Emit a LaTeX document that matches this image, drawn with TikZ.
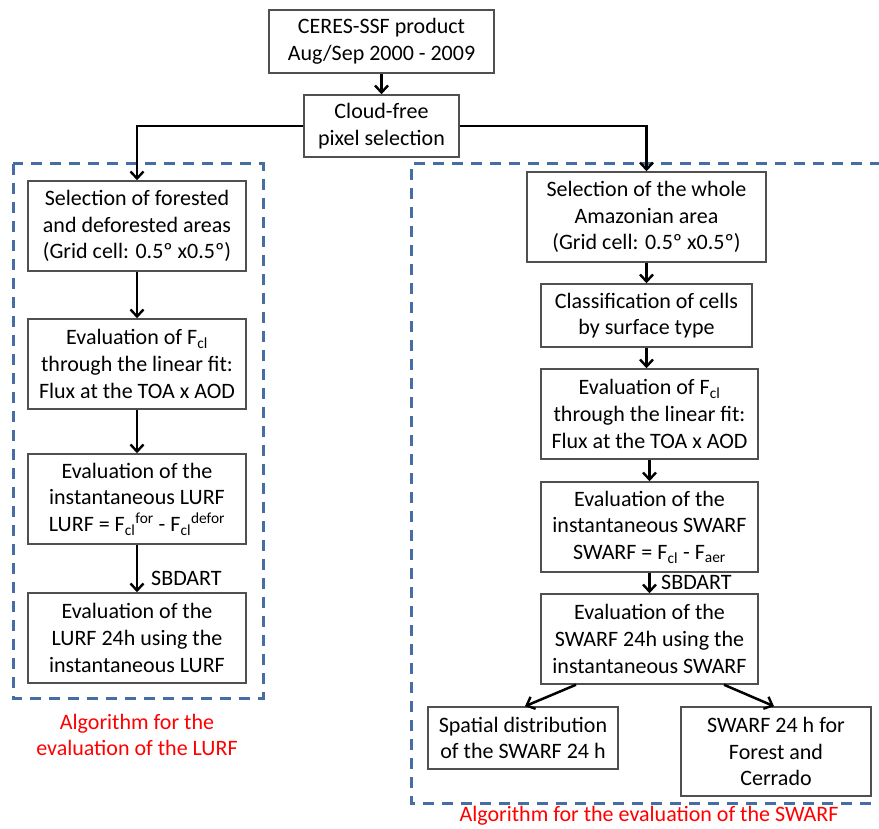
\documentclass[tikz,border=0pt]{standalone}
\usepackage{fontspec}
\setmainfont{Carlito}
\usetikzlibrary{arrows.meta}
\definecolor{dashblue}{RGB}{70,110,165}
\definecolor{boxgray}{RGB}{80,80,80}
\begin{document}
\begin{tikzpicture}[x=1pt,y=-1pt,
  every node/.style={font=\fontsize{22}{26.7}\selectfont, inner sep=0pt},
  box/.style={draw=boxgray, line width=1.5pt, align=center, fill=white},
  arr/.style={draw=black, line width=2.5pt, -{Straight Barb[length=7pt,width=13pt,line width=2.4pt]}},
  grp/.style={draw=dashblue, line width=3pt, dash pattern=on 11pt off 8pt},
  redlbl/.style={text=red, align=center}]
\useasboundingbox (0,0) rectangle (879,829);
\clip (0,0) rectangle (879,829);
% group frames
\draw[grp] (13,164) rectangle (263,698);
\draw[grp] (900,164) -- (411,164) -- (411,803) -- (900,803);
% top
\node[box, minimum width=225pt, minimum height=63pt] (top) at (381.5,41.5) {CERES-SSF product\\Aug/Sep 2000 - 2009};
\node[box, minimum width=155pt, minimum height=62pt] (cloud) at (381.5,126) {Cloud-free\\pixel selection};
% left column
\node[box, minimum width=218pt, minimum height=90pt] (L1) at (137,226) {Selection of forested\\and deforested areas\\(Grid cell: 0.5º x0.5º)};
\node[box, minimum width=218pt, minimum height=90pt] (L2) at (137,364) {Evaluation of F\textsubscript{cl}\\through the linear fit:\\Flux at the TOA x AOD};
\node[box, minimum width=218pt, minimum height=90pt] (L3) at (137,499) {Evaluation of the\\instantaneous LURF\\LURF = F\textsubscript{cl}\textsuperscript{for} - F\textsubscript{cl}\textsuperscript{defor}};
\node[box, minimum width=218pt, minimum height=90pt] (L4) at (137,638) {Evaluation of the\\LURF 24h using the\\instantaneous LURF};
\node[anchor=west] (sbl) at (151,578) {SBDART};
\node[redlbl] (redL) at (137,735) {Algorithm for the\\evaluation of the LURF};
% right column
\node[box, minimum width=239pt, minimum height=90pt] (R1) at (646.5,217) {Selection of the whole\\Amazonian area\\(Grid cell: 0.5º x0.5º)};
\node[box, minimum width=211pt, minimum height=63pt] (R2) at (646.5,315.5) {Classification of cells\\by surface type};
\node[box, minimum width=217pt, minimum height=90pt] (R3) at (649.5,414) {Evaluation of F\textsubscript{cl}\\through the linear fit:\\Flux at the TOA x AOD};
\node[box, minimum width=217pt, minimum height=90pt] (R4) at (649.5,527) {Evaluation of the\\instantaneous SWARF\\SWARF = F\textsubscript{cl} - F\textsubscript{aer}};
\node[box, minimum width=217pt, minimum height=90pt] (R5) at (649.5,639) {Evaluation of the\\SWARF 24h using the\\instantaneous SWARF};
\node[anchor=west] (sbr) at (661,582) {SBDART};
\node[box, minimum width=190pt, minimum height=62pt] (B1) at (523,738) {Spatial distribution\\of the SWARF 24 h};
\node[box, minimum width=190pt, minimum height=89pt] (B2) at (776,751.5) {SWARF 24 h for\\Forest and\\Cerrado};
\node[redlbl, anchor=base] (redR) at (649,821) {Algorithm for the evaluation of the SWARF};
% connectors
\draw[arr] (top.south) -- (cloud.north);
\draw[arr] (cloud.west) -| (L1.north);
\draw[arr] (cloud.east) -| (R1.north);
\draw[arr] (L1.south) -- (L2.north);
\draw[arr] (L2.south) -- (L3.north);
\draw[arr] (L3.south) -- (L4.north);
\draw[arr] (R1.south) -- (R2.north);
\draw[arr] (R2.south) -- (R2.south |- R3.north);
\draw[arr] (R3.south) -- (R4.north);
\draw[arr] (R4.south) -- (R5.north);
\draw[arr] ([xshift=-73.5pt]R5.south) -- ([xshift=2pt]B1.north);
\draw[arr] ([xshift=74.5pt]R5.south) -- ([xshift=-2pt]B2.north);
\end{tikzpicture}
\end{document}
